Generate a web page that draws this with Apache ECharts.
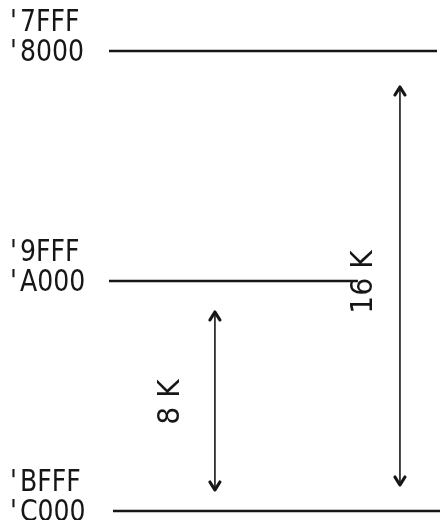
<!DOCTYPE html>
<html><head><meta charset="utf-8">
<script src="https://cdn.jsdelivr.net/npm/echarts@6/dist/echarts.min.js"></script>
<style>html,body{margin:0;padding:0;background:#fff}#c{width:440px;height:520px}</style>
</head><body><div id="c"></div>
<script>
// ---- data ----
const boundaryAddresses = [0x8000, 0xA000, 0xC000];
const endLabels = ["7FFF", "9FFF", "BFFF"];     // last address before each boundary
const startLabels = ["8000", "A000", "C000"];   // first address at each boundary
const spanNames = ["16 K", "8 K"];
const spanFrom = [0x8000, 0xA000];
const spanTo = [0xC000, 0xC000];

// ---- layout / style (not data) ----
const INK = '#161616';
const FONT = '"DejaVu Sans Condensed", "DejaVu Sans", sans-serif';
const FS = 28;
const lineExtent = [[0, 0.991], [0, 0.752], [0.012, 1]];
const spanLayout = [
  { x: 0.879, labelDx: -36, labelDy: 1, insetTop: 36, insetBottom: 26 },
  { x: 0.320, labelDx: -44, labelDy: 6, insetTop: 31, insetBottom: 21 }
];

function txt(x, y, s) {
  return {
    type: 'text', x: x, y: y, scaleX: 1, scaleY: 1.1,
    style: {
      text: s, fill: INK, fontSize: FS, fontFamily: FONT,
      align: 'left', verticalAlign: 'middle',
      rich: { q: { fontSize: FS, fontFamily: FONT, fill: INK, padding: [0, 3, 0, 0] } }
    }
  };
}

function chevron(x, y, dir) { // dir -1 = pointing up, 1 = pointing down
  const w = 5, h = 8;
  return {
    type: 'polyline',
    shape: { points: [[x - w, y - dir * h], [x, y], [x + w, y - dir * h]] },
    style: { stroke: INK, lineWidth: 3.2, fill: null, lineCap: 'round', lineJoin: 'round' }
  };
}

const chart = echarts.init(document.getElementById('c'), null, { renderer: 'canvas' });
chart.setOption({
  backgroundColor: '#ffffff',
  animation: false,
  grid: { left: 109, right: 0, top: 51, bottom: 9 },
  xAxis: { type: 'value', min: 0, max: 1, show: false },
  yAxis: { type: 'value', inverse: true, min: 0x8000, max: 0xC000, interval: 0x2000, show: false },
  series: [
    {
      type: 'custom',
      name: 'boundaries',
      clip: false,
      data: boundaryAddresses.map((a, i) => [i, a]),
      renderItem: function (params, api) {
        const i = api.value(0);
        const addr = api.value(1);
        const ext = lineExtent[i];
        const p0 = api.coord([ext[0], addr]);
        const p1 = api.coord([ext[1], addr]);
        const left = api.coord([0, addr])[0] - 99;
        return {
          type: 'group',
          children: [
            { type: 'line', shape: { x1: p0[0], y1: p0[1], x2: p1[0], y2: p1[1] },
              style: { stroke: INK, lineWidth: 2.3 } },
            txt(left, p0[1] - 28, "{q|'}" + endLabels[i]),
            txt(left, p0[1] + 2, "{q|'}" + startLabels[i])
          ]
        };
      }
    },
    {
      type: 'custom',
      name: 'spans',
      clip: false,
      data: spanFrom.map((f, i) => [i, f, spanTo[i]]),
      renderItem: function (params, api) {
        const i = api.value(0);
        const L = spanLayout[i];
        const top = api.coord([L.x, api.value(1)]);
        const bot = api.coord([L.x, api.value(2)]);
        const x = top[0];
        const y1 = top[1] + L.insetTop;
        const y2 = bot[1] - L.insetBottom;
        const mid = (top[1] + bot[1]) / 2;
        return {
          type: 'group',
          children: [
            { type: 'line', shape: { x1: x, y1: y1, x2: x, y2: y2 },
              style: { stroke: INK, lineWidth: 1.6 } },
            chevron(x, y1, -1),
            chevron(x, y2, 1),
            {
              type: 'text', x: x + L.labelDx, y: mid + L.labelDy, rotation: Math.PI / 2,
              scaleX: 1.12, scaleY: 1.1,
              style: { text: spanNames[i], fill: INK, fontSize: FS, fontFamily: FONT,
                       align: 'center', verticalAlign: 'middle' }
            }
          ]
        };
      }
    }
  ]
});
</script></body></html>
